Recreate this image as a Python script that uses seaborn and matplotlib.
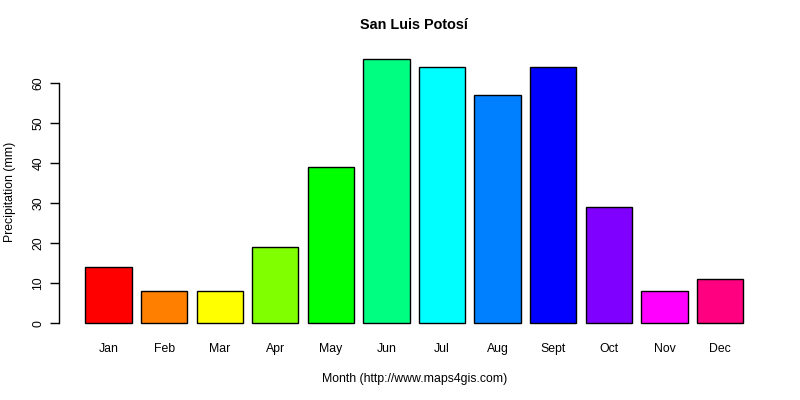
import matplotlib
matplotlib.use("Agg")
import matplotlib.pyplot as plt
import seaborn as sns
import pandas as pd

months = ["Jan", "Feb", "Mar", "Apr", "May", "Jun", "Jul", "Aug", "Sept", "Oct", "Nov", "Dec"]
precip = [14, 8, 8, 19, 39, 66, 64, 57, 64, 29, 8, 11]
colors = ["#FF0000", "#FF8000", "#FFFF00", "#80FF00", "#00FF00", "#00FF80",
          "#00FFFF", "#0080FF", "#0000FF", "#8000FF", "#FF00FF", "#FF0080"]

sns.set_style("white")
plt.rcParams["font.family"] = ["Liberation Sans", "DejaVu Sans"]
plt.rcParams["text.color"] = "black"
plt.rcParams["axes.labelcolor"] = "black"

df = pd.DataFrame({"month": months, "precip": precip})

fig = plt.figure(figsize=(8, 4), dpi=100)
ax = fig.add_axes([0.0738, 0.165, 0.888, 0.713])
sns.barplot(data=df, x="month", y="precip", hue="month", palette=colors,
            width=1 / 1.2, edgecolor="black", linewidth=1, saturation=1,
            legend=False, ax=ax)

ax.set_xlim(-0.89, 11.89)
ax.set_ylim(-2.64, 68.64)
ax.set_yticks([0, 10, 20, 30, 40, 50, 60])
for s in ["top", "right", "bottom"]:
    ax.spines[s].set_visible(False)
ax.spines["left"].set_bounds(0, 60)
ax.spines["left"].set_color("black")
ax.spines["left"].set_linewidth(1)

ax.tick_params(axis="x", length=0, pad=6.5, labelsize=8.8, colors="black")
ax.tick_params(axis="y", left=True, length=6.5, width=1, pad=4, labelsize=8.8, colors="black")
for lbl in ax.get_yticklabels():
    lbl.set_rotation(90)
    lbl.set_va("center")

ax.set_title("San Luis Potosí", fontsize=10.4, fontweight="bold", pad=14, color="black")
ax.set_xlabel("Month (http://www.maps4gis.com)", fontsize=8.8, labelpad=13)
ax.set_ylabel("Precipitation (mm)", fontsize=8.8, labelpad=12)

fig.savefig("out.png", dpi=100)
